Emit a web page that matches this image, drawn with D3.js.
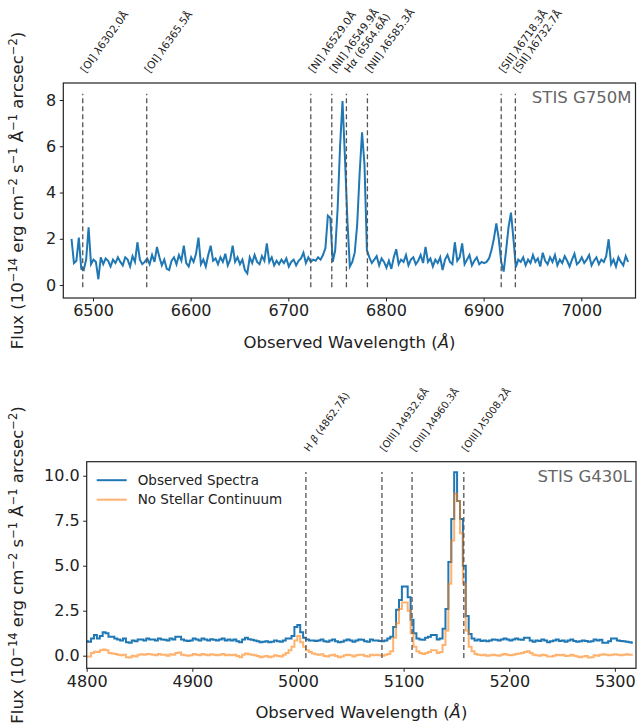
<!DOCTYPE html>
<html>
<head>
<meta charset="utf-8">
<script src="https://cdn.jsdelivr.net/npm/d3@7"></script>
<style>
body { margin: 0; background: #fff; }
text { font-family: "DejaVu Sans", sans-serif; }
</style>
</head>
<body>
<script>
var w = 638;
var h = 724;

// STIS G750M spectrum, sampled every 2.5 A from 6478 A
var redStart = 6478, redStep = 2.5;
var redFlux = [
    2.0, 0.95, 1.05, 2.05, 0.7, 0.65, 1.1, 2.5, 0.9, 1.1,
    1.0, 0.25, 1.2, 0.9, 1.15, 1.05, 0.8, 1.1, 0.95, 1.2,
    1.0, 0.85, 1.2, 1.1, 0.8, 1.25, 1.0, 1.85, 1.1, 0.9,
    1.0, 1.15, 0.9, 1.3, 1.0, 1.65, 1.2, 0.85, 1.1, 0.7,
    0.65, 1.05, 1.2, 0.9, 1.3, 1.05, 1.7, 0.95, 0.8, 1.2,
    1.0, 1.35, 2.05, 0.9, 1.1, 0.8, 1.3, 1.7, 1.05, 1.15,
    0.9, 1.2, 1.0, 1.35, 0.85, 1.1, 1.7, 1.0, 1.2, 0.9,
    1.1, 0.65, 0.5, 1.2, 0.95, 1.3, 1.0, 0.9, 1.25, 1.05,
    1.8, 1.0, 1.2, 0.85, 1.05, 0.9, 1.1, 0.95, 1.15, 0.8,
    1.0, 1.1, 0.85, 1.05, 1.15, 1.4, 0.95, 1.2, 1.0, 1.1,
    1.05, 1.2, 1.1, 1.3, 1.6, 3.0, 2.9, 1.0, 1.5, 3.3,
    6.0, 7.95, 5.5, 2.8, 0.8, 1.0, 1.4, 2.6, 4.8, 6.6,
    5.2, 1.5, 1.2, 0.95, 1.1, 1.25, 0.85, 1.15, 1.0, 0.75,
    1.05, 0.7, 1.2, 1.55, 0.9, 1.1, 1.0, 1.3, 0.85, 1.1,
    1.2, 0.9, 1.05, 1.3, 0.95, 1.65, 1.0, 1.15, 0.8, 1.1,
    0.95, 1.2, 0.65, 1.1, 1.3, 1.0, 0.9, 1.85, 1.05, 1.2,
    1.8, 0.9, 1.1, 1.3, 0.85, 1.05, 1.2, 0.9, 1.0, 0.95,
    1.0, 1.15, 1.5, 2.0, 2.67, 2.0, 1.0, 0.58, 1.5, 2.5,
    3.13, 2.0, 0.77, 1.1, 1.0, 1.2, 0.85, 1.1, 0.95, 1.3,
    1.0, 1.15, 0.8, 1.4, 1.05, 0.9, 1.2, 1.0, 1.3, 0.85,
    1.1, 0.95, 1.25, 1.05, 0.8, 1.1, 1.35, 0.9, 1.0, 1.2,
    0.95, 1.1, 1.3, 0.85, 1.05, 1.2, 0.9, 1.1, 1.0, 1.25,
    1.98, 0.9, 1.1, 0.8, 1.2, 1.0, 0.85, 1.25, 1.0
];

// STIS G430L spectrum, sampled every 2.75 A from 4800 A
var blueStart = 4800, blueStep = 2.75;
var observedFlux = [
    0.8, 0.78, 0.95, 1.15, 0.95, 1.1, 1.3, 1.25, 1.05, 1.05,
    0.95, 0.9, 0.85, 0.95, 0.75, 0.72, 0.85, 0.8, 0.9, 0.9,
    0.85, 0.95, 0.9, 0.9, 0.85, 0.95, 0.9, 0.88, 0.85, 0.95,
    0.9, 1.05, 1.05, 0.9, 0.85, 0.82, 0.85, 0.95, 0.9, 0.85,
    0.95, 0.9, 0.85, 0.92, 0.88, 0.85, 0.9, 0.95, 0.85, 0.9,
    0.85, 0.9, 0.8, 0.75, 0.9, 1.0, 0.92, 0.88, 0.85, 0.8,
    0.75, 0.78, 0.8, 0.75, 0.78, 0.85, 0.8, 0.78, 0.85, 0.95,
    0.95, 1.1, 1.6, 1.7, 1.3, 1.0, 0.9, 0.85, 0.85, 0.82,
    0.85, 0.9, 0.8, 0.78, 0.85, 0.9, 0.8, 0.75, 0.78, 0.85,
    0.9, 0.85, 0.78, 0.85, 0.9, 0.88, 0.8, 0.78, 0.9, 0.85,
    0.85, 0.82, 0.8, 0.85, 0.95, 1.05, 1.6, 2.55, 3.1, 3.85,
    3.85, 3.25, 2.0, 1.25, 0.95, 0.9, 0.88, 1.0, 1.05, 1.15,
    1.15, 0.9, 0.95, 1.5, 2.6, 5.2, 7.6, 10.2, 8.6, 7.6,
    5.0, 2.2, 1.2, 0.95, 0.85, 0.9, 0.82, 0.85, 0.8, 0.85,
    0.9, 0.88, 0.85, 0.9, 0.95, 0.9, 0.85, 0.9, 0.95, 0.9,
    0.88, 1.0, 1.0, 0.85, 0.78, 0.85, 0.82, 0.9, 0.85, 0.75,
    0.8, 0.85, 0.9, 0.82, 0.85, 0.78, 0.85, 0.9, 0.82, 0.78,
    0.8, 0.85, 0.82, 0.78, 0.8, 0.9, 0.85, 0.88, 0.72, 0.72,
    0.8, 0.95, 0.95, 0.85, 0.82, 0.8, 0.78, 0.75, 0.72
];
var noContinuumFlux = [
    -0.05, -0.05, 0.15, 0.22, 0.2, 0.3, 0.35, 0.3, 0.15, 0.12,
    0.1, 0.05, 0.02, 0.05, -0.08, -0.1, 0.0, -0.05, 0.05, 0.08,
    0.05, 0.1, 0.08, 0.05, 0.02, 0.1, 0.05, 0.05, 0.0, 0.08,
    0.05, 0.15, 0.18, 0.05, 0.02, 0.0, 0.02, 0.1, 0.05, 0.02,
    0.1, 0.05, 0.02, 0.08, 0.05, 0.02, 0.05, 0.1, 0.02, 0.05,
    0.02, 0.05, -0.02, -0.08, 0.05, 0.12, 0.08, 0.05, 0.02, -0.02,
    -0.08, -0.05, -0.02, -0.08, -0.05, 0.02, -0.02, -0.05, 0.05, 0.15,
    0.3, 0.5, 0.85, 1.1, 0.75, 0.5, 0.3, 0.2, 0.12, 0.08,
    0.05, 0.08, -0.02, -0.05, 0.02, 0.05, -0.02, -0.08, -0.05, 0.02,
    0.05, 0.02, -0.05, 0.02, 0.05, 0.05, -0.02, -0.05, 0.05, 0.02,
    0.05, 0.02, 0.0, 0.05, 0.1, 0.25, 1.0, 1.8, 2.6, 2.95,
    2.95, 2.5, 1.25, 0.5, 0.25, 0.15, 0.1, 0.15, 0.2, 0.3,
    0.3, 0.15, 0.2, 0.6, 1.4, 4.0, 6.4, 9.0, 8.6, 6.8,
    4.0, 1.4, 0.5, 0.25, 0.1, 0.05, 0.02, 0.05, 0.0, 0.02,
    0.05, 0.02, 0.0, 0.05, 0.1, 0.05, 0.02, 0.05, 0.1, 0.12,
    0.15, 0.2, 0.25, 0.15, 0.05, 0.02, 0.0, 0.05, 0.02, -0.05,
    -0.05, 0.0, 0.05, 0.02, 0.05, -0.02, 0.0, 0.05, 0.0, -0.05,
    -0.08, -0.05, -0.02, -0.1, -0.08, 0.02, 0.0, 0.05, 0.08, 0.05,
    0.02, 0.05, 0.08, 0.05, 0.02, 0.05, 0.08, 0.05, 0.05
];

// emission lines (observed wavelength) and their labels
var redLines = [6489.5, 6555.0, 6723.0, 6744.5, 6759.5, 6781.0, 6918.0, 6932.5];
var redLabels = ["[OI] λ6302.0Å", "[OI] λ6365.5Å", "[NI] λ6529.0Å", "[NII] λ6549.9Å",
                 "Hα (6564.6Å)", "[NII] λ6585.3Å", "[SII] λ6718.3Å", "[SII] λ6732.7Å"];
var blueLines = [5007.5, 5079.5, 5108.0, 5157.0];
var blueLabels = ["H β (4862.7Å)", "[OIII] λ4932.6Å", "[OIII] λ4960.3Å", "[OIII] λ5008.2Å"];

var redXTicks = [6500, 6600, 6700, 6800, 6900, 7000];
var redYTicks = [0, 2, 4, 6, 8];
var blueXTicks = [4800, 4900, 5000, 5100, 5200, 5300];
var blueYTicks = [0, 2.5, 5, 7.5, 10];

var seriesNames = ["Observed Spectra", "No Stellar Continuum"];
var seriesColors = ["#1f77b4", "#ff7f0e"];

var svg = d3.select("body")
            .append("svg")
            .attr("width", w)
            .attr("height", h);

drawPanel({
    id: "red",
    box: {left: 63.3, right: 635.5, top: 83, bottom: 298},
    xDomain: [6469.6, 7055.5],
    yDomain: [-0.56, 8.735],
    xTicks: redXTicks, yTicks: redYTicks, yFormat: d3.format("d"),
    lines: redLines, labels: redLabels, labelSize: 10.5,
    tag: "STIS G750M",
    series: [{start: redStart, step: redStep, flux: redFlux, color: seriesColors[0], opacity: 1, step_: false}]
});

drawPanel({
    id: "blue",
    box: {left: 86.7, right: 636, top: 461.7, bottom: 668.3},
    xDomain: [4800, 5320],
    yDomain: [-0.7, 10.78],
    xTicks: blueXTicks, yTicks: blueYTicks, yFormat: d3.format(".1f"),
    lines: blueLines, labels: blueLabels, labelSize: 10,
    tag: "STIS G430L",
    legend: true,
    series: [
        {start: blueStart, step: blueStep, flux: observedFlux, color: seriesColors[0], opacity: 1, step_: true},
        {start: blueStart, step: blueStep, flux: noContinuumFlux, color: seriesColors[1], opacity: 0.6, step_: true}
    ]
});

// DRAWING =====================================

function drawPanel(cfg) {
    var b = cfg.box;
    var x = d3.scaleLinear().domain(cfg.xDomain).range([b.left, b.right]);
    var y = d3.scaleLinear().domain(cfg.yDomain).range([b.bottom, b.top]);
    var g = svg.append("g");

    g.append("clipPath").attr("id", "clip-" + cfg.id)
        .append("rect")
            .attr("x", b.left).attr("y", b.top)
            .attr("width", b.right - b.left).attr("height", b.bottom - b.top);

    // spectra
    cfg.series.forEach(function(s) {
        var pts = s.flux.map(function(v, i) { return [s.start + i * s.step, v]; });
        var line = d3.line()
            .x(function(d) { return x(d[0]); })
            .y(function(d) { return y(d[1]); });
        if (s.step_) line.curve(d3.curveStep);
        g.append("path")
            .attr("clip-path", "url(#clip-" + cfg.id + ")")
            .attr("d", line(pts))
            .attr("fill", "none")
            .attr("stroke", s.color)
            .attr("stroke-opacity", s.opacity)
            .attr("stroke-width", 2)
            .attr("stroke-linejoin", "miter");
    });

    // emission line markers, 5% to 95% of the axes height
    var hgt = b.bottom - b.top;
    g.selectAll("line.em")
        .data(cfg.lines)
        .enter().append("line")
            .attr("class", "em")
            .attr("x1", function(d) { return x(d); })
            .attr("x2", function(d) { return x(d); })
            .attr("y1", b.bottom - 0.05 * hgt)
            .attr("y2", b.top + 0.05 * hgt)
            .attr("stroke", "#555")
            .attr("stroke-width", 1.3)
            .attr("stroke-dasharray", "5,3");

    // slanted labels above the axes
    g.selectAll("text.em")
        .data(cfg.lines)
        .enter().append("text")
            .attr("class", "em")
            .attr("transform", function(d) {
                return "translate(" + (x(d) + 3) + "," + (b.top - 9.5) + ") rotate(-54)";
            })
            .style("font-size", cfg.labelSize + "px")
            .attr("fill", "#222")
            .each(function(d, i) {
                var t = d3.select(this);
                cfg.labels[i].split(/([λαβ])/).forEach(function(part) {
                    if (!part) return;
                    var sp = t.append("tspan").text(part);
                    if (/[λαβ]/.test(part)) sp.attr("font-style", "italic");
                });
            });

    // axes
    var xAxis = d3.axisBottom(x).tickValues(cfg.xTicks).tickSize(3.5).tickPadding(3.5)
        .tickFormat(d3.format("d"));
    var yAxis = d3.axisLeft(y).tickValues(cfg.yTicks).tickSize(3.5).tickPadding(3.5)
        .tickFormat(cfg.yFormat);
    var ax = g.append("g").attr("transform", "translate(0," + b.bottom + ")").call(xAxis);
    var ay = g.append("g").attr("transform", "translate(" + b.left + ",0)").call(yAxis);
    [ax, ay].forEach(function(a) {
        a.select(".domain").remove();
        a.selectAll("line").attr("stroke", "#222").attr("stroke-width", 1);
        a.selectAll("text").attr("font-size", "16px").attr("fill", "#222")
            .attr("font-family", "DejaVu Sans");
    });

    // frame
    g.append("rect")
        .attr("x", b.left).attr("y", b.top)
        .attr("width", b.right - b.left).attr("height", b.bottom - b.top)
        .attr("fill", "none")
        .attr("stroke", "#222")
        .attr("stroke-width", 1.2);

    // instrument tag
    g.append("text")
        .attr("x", b.right - 4)
        .attr("y", b.top + 20)
        .attr("text-anchor", "end")
        .attr("font-size", "16.5px")
        .attr("fill", "#666")
        .text(cfg.tag);

    // x label
    var xl = g.append("text")
        .attr("x", (b.left + b.right) / 2)
        .attr("y", b.bottom + 50)
        .attr("text-anchor", "middle")
        .attr("font-size", "16.5px")
        .attr("fill", "#222");
    xl.append("tspan").text("Observed Wavelength (");
    xl.append("tspan").attr("font-style", "italic").text("Å");
    xl.append("tspan").text(")");

    // y label with superscripts
    var yl = g.append("text")
        .attr("transform", "translate(23," + ((b.top + b.bottom) / 2) + ") rotate(-90)")
        .attr("text-anchor", "middle")
        .attr("font-size", "16.5px")
        .attr("fill", "#222");
    var parts = [["Flux (10", 0], ["−14", 1], [" erg cm", 0], ["−2", 1], [" s", 0], ["−1", 1],
                 [" Å", 0], ["−1", 1], [" arcsec", 0], ["−2", 1], [")", 0]];
    var prev = 0;
    parts.forEach(function(p) {
        var sp = yl.append("tspan").text(p[0]);
        if (p[1]) {
            sp.attr("font-size", "11.5px").attr("dy", -6.5);
        } else if (prev) {
            sp.attr("dy", 6.5);
        }
        prev = p[1];
    });

    if (cfg.legend) {
        var lg = g.append("g");
        seriesNames.forEach(function(name, i) {
            var ly = b.top + 18.5 + i * 19.5;
            lg.append("line")
                .attr("x1", b.left + 10).attr("x2", b.left + 40)
                .attr("y1", ly).attr("y2", ly)
                .attr("stroke", seriesColors[i])
                .attr("stroke-opacity", cfg.series[i].opacity)
                .attr("stroke-width", 2);
            lg.append("text")
                .attr("x", b.left + 51).attr("y", ly)
                .attr("dy", "0.35em")
                .attr("font-size", "13.5px")
                .attr("fill", "#222")
                .text(name);
        });
    }
}
</script>
</body>
</html>
